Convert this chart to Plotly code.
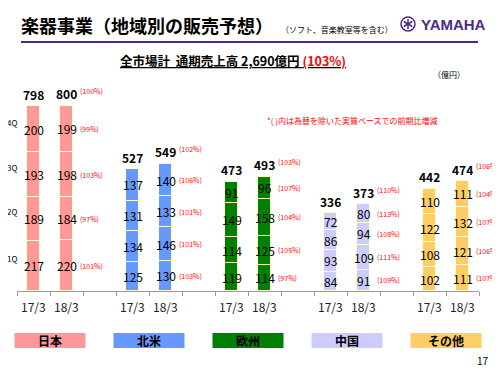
import math
import plotly.graph_objects as go

regions = ["日本", "北米", "欧州", "中国", "その他"]
colors = ["#FF9999", "#6699FF", "#008000", "#CCCCFF", "#FFCC66"]
periods = ["17/3", "18/3"]

# quarterly sales (億円) 17/3
q1_17 = [217, 125, 119, 84, 102]
q2_17 = [189, 134, 114, 93, 108]
q3_17 = [193, 131, 149, 86, 122]
q4_17 = [200, 137, 91, 72, 110]
# quarterly sales (億円) 18/3 forecast
q1_18 = [220, 130, 114, 91, 111]
q2_18 = [184, 146, 125, 109, 121]
q3_18 = [198, 133, 158, 94, 132]
q4_18 = [199, 140, 96, 80, 111]
total_17 = [798, 527, 473, 336, 442]
total_18 = [800, 549, 493, 373, 474]
# YoY ratio excluding FX (%)
pct_q1 = [101, 103, 97, 109, 107]
pct_q2 = [97, 101, 105, 111, 106]
pct_q3 = [103, 101, 104, 108, 107]
pct_q4 = [99, 106, 107, 113, 104]
pct_total = [100, 102, 103, 110, 106]
quarter_labels = ["1Q", "2Q", "3Q", "4Q"]

FONT = "Noto Sans CJK JP"
OFF = 8  # default page body margin
W, H = 500 - OFF, 375 - 2 * OFF
L, R, T = 17 - OFF, 21, 100 - OFF
B = H - (291 - OFF)
PW, PH = W - L - R, H - T - B
YMAX = PH / 0.2315


def px(x):
    return (x - OFF - L) / PW


def py(y):
    return (H - B - (y - OFF)) / PH


q17 = [q1_17, q2_17, q3_17, q4_17]
q18 = [q1_18, q2_18, q3_18, q4_18]
pcts = [pct_q1, pct_q2, pct_q3, pct_q4]

pos17 = [g * 3 for g in range(len(regions))]
pos18 = [g * 3 + 1 for g in range(len(regions))]

fig = go.Figure()
for qi in range(4):
    xs, ys, cs = [], [], []
    for g in range(len(regions)):
        xs += [pos17[g], pos18[g]]
        ys += [q17[qi][g], q18[qi][g]]
        cs += [colors[g], colors[g]]
    fig.add_trace(go.Bar(x=xs, y=ys, width=0.37, marker=dict(color=cs, line=dict(color="#FFFFCC", width=1)),
                         showlegend=False, hoverinfo="skip"))


def A(**kw):
    d = dict(showarrow=False, xanchor="center", yanchor="middle")
    d.update(kw)
    return d


ann = []
for g in range(len(regions)):
    for series, pos in ((q17, pos17[g]), (q18, pos18[g])):
        cum = 0
        for qi in range(4):
            v = series[qi][g]
            ann.append(A(x=pos, y=cum + v / 2, text=str(v),
                         font=dict(size=12, color="black", family=FONT)))
            if series is q18:
                ann.append(A(x=pos + 0.36, y=cum + v / 2, text="(%d%%)" % pcts[qi][g], xanchor="left",
                             font=dict(size=7, color="#FF0000", family=FONT)))
            cum += v
    ann.append(A(x=pos17[g], y=total_17[g], yshift=12, text="<b>%d</b>" % total_17[g],
                 font=dict(size=12, color="black", family=FONT)))
    ann.append(A(x=pos18[g], y=total_18[g], yshift=12, text="<b>%d</b>" % total_18[g],
                 font=dict(size=12, color="black", family=FONT)))
    ann.append(A(x=pos18[g] + 0.36, y=total_18[g], yshift=15, text="(%d%%)" % pct_total[g], xanchor="left",
                 font=dict(size=7, color="#FF0000", family=FONT)))
    for pos, lab in ((pos17[g], periods[0]), (pos18[g], periods[1])):
        ann.append(A(x=pos, xref="x", y=py(306), yref="paper", text=lab,
                     font=dict(size=12, color="#222", family=FONT)))
    cx = (g * 3 + 1) / 14
    ann.append(A(x=cx, xref="paper", y=py(340.5), yref="paper", text="<b>%s</b>" % regions[g],
                 font=dict(size=12, color="black", family=FONT)))

cum = 0
for qi in range(4):
    v = q17[qi][0]
    ann.append(A(x=px(12), xref="paper", y=cum + v / 2, yref="y", yshift=7, text=quarter_labels[qi],
                 font=dict(size=8, color="black", family=FONT)))
    cum += v

ann += [
    A(x=px(19), y=py(25), xref="paper", yref="paper", xanchor="left",
      text="<b>楽器事業（地域別の販売予想）</b>", font=dict(size=18, color="black", family=FONT)),
    A(x=px(279), y=py(30), xref="paper", yref="paper", xanchor="left",
      text="（ソフト、音楽教室等を含む）", font=dict(size=8, color="black", family=FONT)),
    A(x=px(453), y=py(24), xref="paper", yref="paper",
      text="<b>YAMAHA</b>", font=dict(size=15, color="#4E2A84", family="Liberation Sans")),
    A(x=px(233), y=py(60), xref="paper", yref="paper",
      text="<b><u>全市場計  通期売上高 2,690億円 <span style='color:#FF0000'>(103%)</span></u></b>",
      font=dict(size=12.5, color="black", family=FONT)),
    A(x=px(449), y=py(74), xref="paper", yref="paper",
      text="（億円）", font=dict(size=8, color="black", family=FONT)),
    A(x=px(352), y=py(121), xref="paper", yref="paper",
      text="*( )内は為替を除いた実質ベースでの前期比増減", font=dict(size=8, color="#FF0000", family=FONT)),
    A(x=px(491), y=py(360), xref="paper", yref="paper", xanchor="right",
      text="17", font=dict(size=10, color="black", family=FONT)),
]

shapes = [
    dict(type="line", xref="paper", yref="paper", x0=px(21), x1=px(478), y0=py(42), y1=py(42),
         line=dict(color="#4E2A84", width=2)),
    dict(type="circle", xref="paper", yref="paper", x0=px(401), x1=px(415), y0=py(31), y1=py(17),
         line=dict(color="#4E2A84", width=1.5)),
]
for k in range(3):
    a = math.pi / 3 * k + math.pi / 2
    shapes.append(dict(type="line", xref="paper", yref="paper",
                       x0=px(408 + 5 * math.cos(a)), x1=px(408 - 5 * math.cos(a)),
                       y0=py(24 - 5 * math.sin(a)), y1=py(24 + 5 * math.sin(a)),
                       line=dict(color="#4E2A84", width=1.5)))
for g in range(len(regions)):
    cx = (g * 3 + 1) / 14
    hw = 35.5 / PW
    shapes.append(dict(type="rect", xref="paper", yref="paper", x0=cx - hw, x1=cx + hw,
                       y0=py(348), y1=py(333), fillcolor=colors[g], line=dict(width=0), layer="below"))

fig.update_layout(
    width=W, height=H, margin=dict(l=L, r=R, t=T, b=B),
    barmode="stack", bargap=0,
    paper_bgcolor="white", plot_bgcolor="white",
    annotations=ann, shapes=shapes,
    font=dict(family=FONT),
    xaxis=dict(range=[-0.5, 13.5], tickvals=[i - 0.5 for i in range(15)], ticktext=[""] * 15,
               ticks="outside", ticklen=4, tickcolor="#999999", showline=True, linecolor="#999999",
               linewidth=1, showgrid=False, zeroline=False, fixedrange=True),
    yaxis=dict(range=[0, YMAX], visible=False, fixedrange=True),
)

fig.write_html("out.html")
